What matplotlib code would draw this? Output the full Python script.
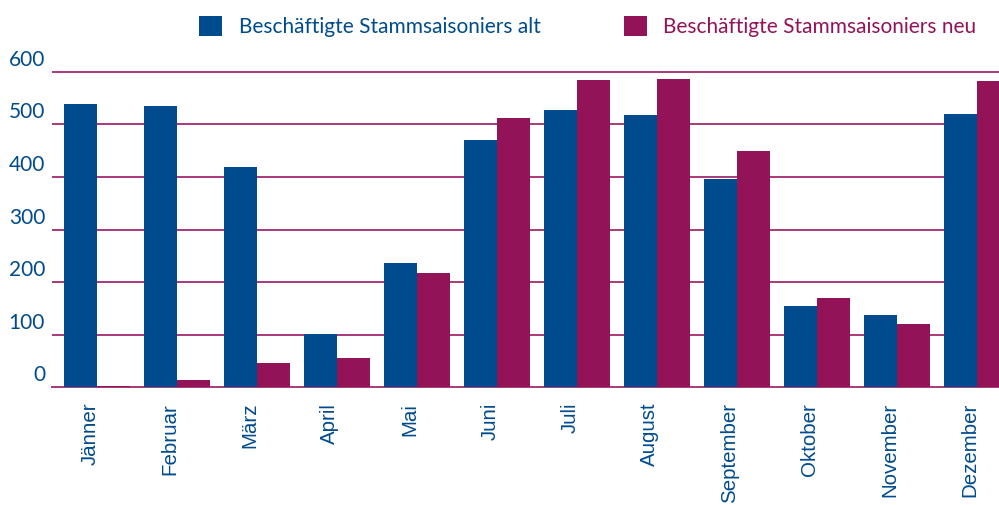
import numpy as np
import matplotlib
matplotlib.use("Agg")
import matplotlib.pyplot as plt
from matplotlib.transforms import ScaledTranslation

months = ["Jänner", "Februar", "März", "April", "Mai", "Juni", "Juli",
          "August", "September", "Oktober", "November", "Dezember"]
alt = [538, 535, 419, 101, 236, 470, 527, 518, 396, 155, 138, 520]
neu = [3, 14, 46, 56, 217, 512, 584, 586, 449, 170, 120, 582]
yticks = [0, 100, 200, 300, 400, 500, 600]
series_names = ["Beschäftigte Stammsaisoniers alt", "Beschäftigte Stammsaisoniers neu"]

blue = "#004b8d"
pink = "#921357"
grid_col = "#a8397a"

fig = plt.figure(figsize=(9.99, 5.05), dpi=100)
ax = fig.add_axes([52 / 999, 0.2327, 1 - 52 / 999, 0.6465])

x = np.arange(len(months))
w = 0.4125
ax.bar(x - w / 2, alt, w, color=blue, zorder=3, label=series_names[0])
ax.bar(x + w / 2, neu, w, color=pink, zorder=3, label=series_names[1])

ax.set_xlim(-0.5625, 11.275)
ax.set_ylim(0, 620)

# horizontal grid lines
for v in yticks[1:]:
    ax.axhline(v, color=grid_col, lw=1.4, zorder=1)

for s in ["top", "right", "left"]:
    ax.spines[s].set_visible(False)
ax.spines["bottom"].set_color(grid_col)
ax.spines["bottom"].set_linewidth(1.4)
ax.spines["bottom"].set_zorder(2)

ax.set_yticks(yticks)
ax.set_yticklabels([str(v) for v in yticks], fontsize=15, color=blue, family="Lato")
ax.tick_params(axis="y", length=0, pad=5)
off = ScaledTranslation(0, 14 / 100, fig.dpi_scale_trans)
for lab in ax.get_yticklabels():
    lab.set_transform(lab.get_transform() + off)

ax.set_xticks(x - 0.09)
ax.set_xticklabels(months, rotation=90, fontsize=14.8, color=blue, family="Liberation Sans")
ax.tick_params(axis="x", length=0, pad=11)

leg = ax.legend(loc="upper left", bbox_to_anchor=(199 / 999, 1 - 16 / 505),
                bbox_transform=fig.transFigure, ncol=2, frameon=False,
                prop={"family": "Lato", "size": 15},
                handlelength=1.1, handleheight=1.1, handletextpad=0.8,
                columnspacing=4.0, borderpad=0, borderaxespad=0)
for t, c in zip(leg.get_texts(), [blue, pink]):
    t.set_color(c)

fig.savefig("out.png", dpi=100)
